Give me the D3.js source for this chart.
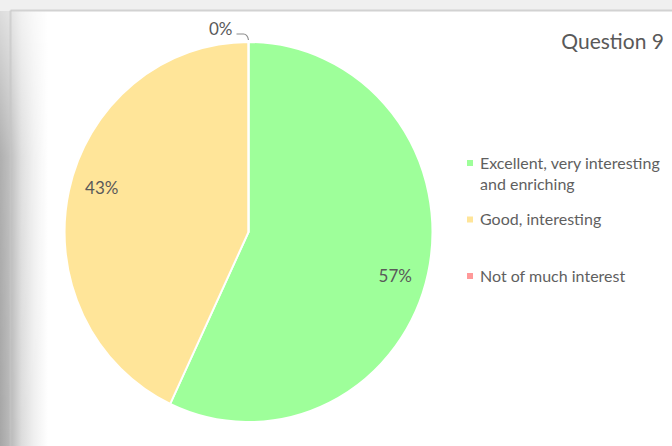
<!DOCTYPE html>
<html lang="en">
<head>
    <meta charset="UTF-8">
    <title>Question 9</title>
    <script src="https://d3js.org/d3.v7.min.js"></script>
    <style>
        body { margin: 0; background: #ffffff; }
        svg { display: block; font-family: Lato, "Open Sans", sans-serif; }
        .label { font-size: 17px; fill: #595959; }
        .legend-text { font-size: 16px; fill: #5f5f5f; }
        .title { font-size: 21px; fill: #595959; }
    </style>
</head>
<body>
    <svg id="chart"></svg>

    <script>
        // Chart data
        const title = "Question 9";
        const categories = ["Excellent, very interesting and enriching", "Good, interesting", "Not of much interest"];
        const values = [57, 43, 0];
        const colors = ["#9eff9a", "#ffe599", "#ff9999"];

        const width = 672, height = 446;

        const svg = d3.select("#chart")
            .attr("width", width)
            .attr("height", height);

        // Background: top strip, shadow on the left and panel border
        const defs = svg.append("defs");
        const shade = defs.append("linearGradient").attr("id", "shade")
            .attr("x1", 0).attr("x2", 1).attr("y1", 0).attr("y2", 0);
        shade.append("stop").attr("offset", "0%").attr("stop-color", "#a6a6a6");
        shade.append("stop").attr("offset", "25%").attr("stop-color", "#bdbdbd");
        shade.append("stop").attr("offset", "45%").attr("stop-color", "#dcdcdc");
        shade.append("stop").attr("offset", "70%").attr("stop-color", "#efefef");
        shade.append("stop").attr("offset", "100%").attr("stop-color", "#ffffff");

        const fade = defs.append("linearGradient").attr("id", "fade")
            .attr("x1", 0).attr("x2", 0).attr("y1", 0).attr("y2", 1);
        fade.append("stop").attr("offset", "0%").attr("stop-color", "#fff").attr("stop-opacity", 0.35);
        fade.append("stop").attr("offset", "35%").attr("stop-color", "#fff").attr("stop-opacity", 0.9);
        fade.append("stop").attr("offset", "100%").attr("stop-color", "#fff").attr("stop-opacity", 1);
        defs.append("mask").attr("id", "fadeMask")
            .attr("maskUnits", "userSpaceOnUse")
            .append("rect").attr("width", 48).attr("height", height).attr("fill", "url(#fade)");

        svg.append("rect").attr("width", width).attr("height", 11).attr("fill", "#f0f0f0");
        svg.append("rect").attr("y", 11).attr("width", 48).attr("height", height - 11)
            .attr("fill", "url(#shade)").attr("mask", "url(#fadeMask)");
        svg.append("line").attr("x1", 10.5).attr("x2", width).attr("y1", 10.5).attr("y2", 10.5)
            .attr("stroke", "#d2d2d2").attr("stroke-width", 2);
        svg.append("line").attr("x1", 10.5).attr("x2", 10.5).attr("y1", 10.5).attr("y2", height)
            .attr("stroke", "#c4c4c4").attr("stroke-width", 2).attr("stroke-opacity", 0.6);

        // Pie
        const cx = 248.5, cy = 232, r = 190, sx = 0.968;

        const pie = d3.pie().sort(null).value(d => d.value);
        const arcs = pie(categories.map((c, i) => ({ name: c, value: values[i], color: colors[i] })));

        const arc = d3.arc().innerRadius(0).outerRadius(r);

        const g = svg.append("g")
            .attr("transform", `translate(${cx},${cy}) scale(${sx},1)`);

        g.selectAll("path.slice")
            .data(arcs)
            .join("path")
            .attr("class", "slice")
            .attr("d", arc)
            .attr("fill", d => d.data.color)
            .attr("stroke", "#ffffff")
            .attr("stroke-width", 2)
            .attr("stroke-linejoin", "round");

        // Data labels; empty slices sit outside with a leader line
        const total = d3.sum(values);
        const pct = d => Math.round(d.data.value / total * 100) + "%";
        const labelR = r * 0.83, labelTurn = 0.06; // excel "best fit" sits a bit past mid-slice

        const labels = svg.append("g")
            .attr("transform", `translate(${cx},${cy})`);

        arcs.forEach(d => {
            if (d.data.value > 0) {
                const a = (d.startAngle + d.endAngle) / 2 + labelTurn;
                labels.append("text")
                    .attr("class", "label")
                    .attr("x", Math.sin(a) * labelR * sx)
                    .attr("y", -Math.cos(a) * labelR)
                    .attr("dy", "0.35em")
                    .attr("text-anchor", "middle")
                    .text(pct(d));
            } else {
                const a = d.startAngle;
                const x0 = Math.sin(a) * (r + 2) * sx, y0 = -Math.cos(a) * (r + 2);
                const y1 = y0 - 6;
                labels.append("path")
                    .attr("d", `M${x0},${y0} Q${x0 - 1},${y1} ${x0 - 5},${y1} L${x0 - 12},${y1}`)
                    .attr("fill", "none")
                    .attr("stroke", "#8c8c8c")
                    .attr("stroke-width", 1.2);
                labels.append("text")
                    .attr("class", "label")
                    .attr("x", x0 - 16)
                    .attr("y", y1)
                    .attr("text-anchor", "end")
                    .attr("dy", "0.05em")
                    .text(pct(d));
            }
        });

        // Title
        svg.append("text")
            .attr("class", "title")
            .attr("x", 664)
            .attr("y", 42)
            .attr("dy", "0.35em")
            .attr("text-anchor", "end")
            .text(title);

        // Legend
        const legendY = d3.scalePoint().domain(categories).range([163, 276]);
        const legend = svg.append("g").attr("transform", "translate(467,0)");

        const items = legend.selectAll("g.item")
            .data(categories)
            .join("g")
            .attr("class", "item")
            .attr("transform", d => `translate(0,${legendY(d)})`);

        items.append("rect")
            .attr("x", 0).attr("y", -3)
            .attr("width", 6).attr("height", 6)
            .attr("fill", (d, i) => colors[i]);

        // wrap long legend entries onto a second line
        items.append("text")
            .attr("class", "legend-text")
            .attr("x", 13)
            .each(function(d) {
                const text = d3.select(this);
                const words = d.split(" ");
                let line = [];
                let tspan = text.append("tspan").attr("x", 13).attr("dy", "0.35em");
                words.forEach(w => {
                    line.push(w);
                    tspan.text(line.join(" "));
                    if (tspan.node().getComputedTextLength() > 190 && line.length > 1) {
                        line.pop();
                        tspan.text(line.join(" "));
                        line = [w];
                        tspan = text.append("tspan").attr("x", 13).attr("dy", "1.35em").text(w);
                    }
                });
            });
    </script>
</body>
</html>
